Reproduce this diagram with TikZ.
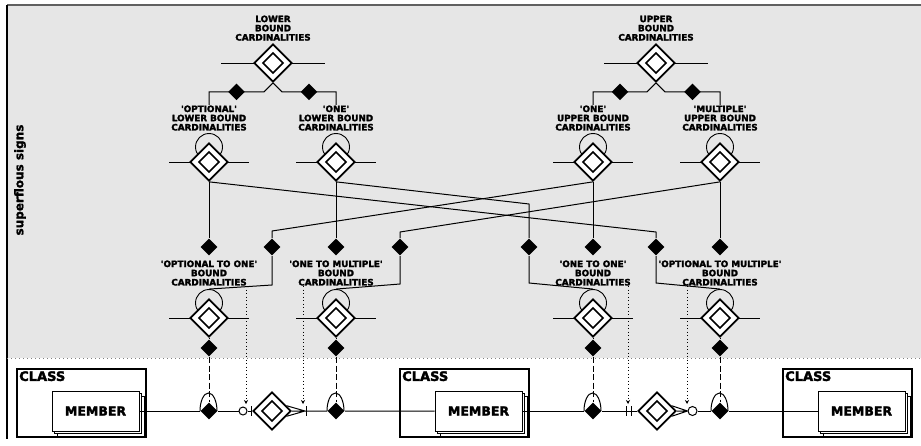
\documentclass[tikz,border=0pt]{standalone}
\usepackage{fontspec}
\setmainfont{DejaVu Sans}
\newfontfamily\heavy{DejaVu Sans Bold}[Ligatures=TeXOff, FakeBold=2.5]
\newfontfamily\sidefont{DejaVu Sans Bold}[FakeBold=1.5]
\usetikzlibrary{shapes.geometric, positioning, shadows, arrows.meta}
\definecolor{panel}{HTML}{E6E6E6}
\definecolor{rule}{HTML}{606060}

\begin{document}
\begin{tikzpicture}[x=1pt, y=-1pt, line width=1pt,
  rel/.style={diamond, draw, fill=white, line width=1.7pt, minimum size=38pt, inner sep=0pt,
    path picture={\draw[line width=1.7pt] (path picture bounding box.center) +(-10pt,0) -- +(0,10pt) -- +(10pt,0) -- +(0,-10pt) -- cycle;}},
  bdia/.style={diamond, fill=black, minimum size=17pt, inner sep=0pt},
  loopc/.style={circle, draw, line width=0.9pt, minimum size=27pt, inner sep=0pt},
  lab/.style={font=\heavy\fontsize{8.8}{9.2}\selectfont, align=center, inner sep=0pt},
  classbox/.style={draw, line width=1.5pt, fill=white, minimum width=129pt, minimum height=68pt},
  member/.style={draw, fill=white, minimum width=87pt, minimum height=40pt, font=\heavy\fontsize{12.5}{14}\selectfont,
    copy shadow={shadow xshift=5pt, shadow yshift=-5pt}, copy shadow={shadow xshift=2.5pt, shadow yshift=-2.5pt}},
  ring/.style={circle, draw, fill=white, minimum size=8pt, inner sep=0pt},
  hint/.style={dash pattern=on 1pt off 2.5pt, -{Stealth[length=4pt, width=4pt]}},
  link/.style={dash pattern=on 6pt off 2.5pt}]
  \useasboundingbox (0,0) rectangle (921,445);

  % grey panel with the superflous signs
  \fill[panel] (7,5) rectangle (921,358);
  \draw[rule, line width=1.2pt] (7,5) -- (921,5);
  \draw[line width=1.3pt] (7,5) -- (7,439);
  \draw[gray, dash pattern=on 1pt off 3pt] (7,358) -- (921,358);
  \node[rotate=90, font=\sidefont\fontsize{12}{14}\selectfont] (side) at (20,180) {superflous signs};

  % top level
  \foreach \n/\x in {lower/273, upper/656} {
    \draw (\x-52,63) -- (\x+52,63);
    \node[rel] (\n) at (\x,63) {};
  }
  \node[lab, above=2pt of lower] (lower-lab) {LOWER\\BOUND\\CARDINALITIES};
  \node[lab, above=2pt of upper] (upper-lab) {UPPER\\BOUND\\CARDINALITIES};

  % diamonds with a loop
  \foreach \n/\x/\y in {optlow/209/162, onelow/336/162, oneup/593/162, multup/720/162,
                        optone/209/318, onemult/336/318, oneone/593/318, optmult/720/318} {
    \node[loopc] (\n-loop) at (\x,\y-15) {};
    \draw (\x-40,\y) -- (\x+40,\y);
    \node[rel] (\n) at (\x,\y) {};
  }
  \node[lab, above=2pt of optlow-loop] (optlow-lab) {'OPTIONAL'\\LOWER BOUND\\CARDINALITIES};
  \node[lab, above=2pt of onelow-loop] (onelow-lab) {'ONE'\\LOWER BOUND\\CARDINALITIES};
  \node[lab, above=2pt of oneup-loop] (oneup-lab) {'ONE'\\UPPER BOUND\\CARDINALITIES};
  \node[lab, above=2pt of multup-loop] (multup-lab) {'MULTIPLE'\\UPPER BOUND\\CARDINALITIES};
  \node[lab, above=3pt of optone-loop] (optone-lab) {'OPTIONAL TO ONE'\\BOUND\\CARDINALITIES};
  \node[lab, above=3pt of onemult-loop] (onemult-lab) {'ONE TO MULTIPLE'\\BOUND\\CARDINALITIES};
  \node[lab, above=3pt of oneone-loop] (oneone-lab) {'ONE TO ONE'\\BOUND\\CARDINALITIES};
  \node[lab, above=3pt of optmult-loop] (optmult-lab) {'OPTIONAL TO MULTIPLE'\\BOUND\\CARDINALITIES};

  % branches
  \draw (lower.south) -- ++(-9,9) -| node[bdia, pos=.25] (b1) {} (optlow-lab.north);
  \draw (lower.south) -- ++(9,9) -| node[bdia, pos=.25] (b2) {} (onelow-lab.north);
  \draw (upper.south) -- ++(-9,9) -| node[bdia, pos=.25] (b3) {} (oneup-lab.north);
  \draw (upper.south) -- ++(9,9) -| node[bdia, pos=.25] (b4) {} (multup-lab.north);

  % combinations
  \foreach \x [count=\i] in {209,272,336,400,529,593,656,720}
    \node[bdia] (j\i) at (\x,247) {};
  \draw (optlow.south) -- (j1);
  \draw (onelow.south) -- (j3);
  \draw (oneup.south) -- (j6);
  \draw (multup.south) -- (j8);
  \draw (optlow.south) -- (656,232) -- (j7) -- (656,283) -- (optmult-loop.north);
  \draw (onelow.south) -- (529,204) -- (j5) -- (529,283) -- (oneone-loop.north);
  \draw (oneup.south) -- (272,231) -- (j2) -- (272,285) -- (optone-loop.north);
  \draw (multup.south) -- (400,232) -- (j4) -- (400,284) -- (onemult-loop.north);

  % classes
  \foreach \x [count=\i] in {81.5,464.5,847.5} {
    \node[classbox] (cls\i) at (\x,403) {};
    \node[anchor=north west, inner sep=2.5pt, font=\heavy\fontsize{13}{15}\selectfont] (cls\i-name) at (cls\i.north west) {CLASS};
    \node[member] (mem\i) at (\x+14,411) {MEMBER};
  }

  % signs on the association
  \foreach \n/\x [count=\i] in {optone/209, onemult/336, oneone/593, optmult/720} {
    \node[bdia] (e\i) at (\x,348) {};
    \node[bdia] (f\i) at (\x,411) {};
    \draw (\n) -- (e\i);
    \draw[link] (e\i) -- (f\i);
    \draw (f\i.west) arc[start angle=180, end angle=0, x radius=8.5pt, y radius=18pt];
  }
  \node[rel] (rel1) at (272,411) {};
  \node[rel] (rel2) at (657,411) {};
  \node[ring] (o1) at (243,411) {};
  \node[ring, minimum size=9pt] (o2) at (692.5,411) {};
  \coordinate (c1) at (305,411);
  \coordinate (c2) at (o2.west);
  \foreach \t in {251,306,626,631}
    \draw (\t,406) -- (\t,416);

  \draw (mem1) -- (f1) -- (o1) -- (rel1);
  \draw (rel1.20) -- (c1) (rel1.east) -- (c1) (rel1.-20) -- (c1) -- (f2) -- (mem2);
  \draw (mem2) -- (f3) -- (rel2);
  \draw (rel2.20) -- (c2) (rel2.east) -- (c2) (rel2.-20) -- (c2);
  \draw (o2) -- (f4) -- (mem3);

  % hints
  \coordinate (h1) at (246,404);
  \coordinate (h2) at (303,404);
  \coordinate (h3) at (628,404);
  \coordinate (h4) at (687,404);
  \draw[hint] (optone-lab.south -| h1) -- (h1);
  \draw[hint] (onemult-lab.south -| h2) -- (h2);
  \draw[hint] (oneone-lab.south -| h3) -- (h3);
  \draw[hint] (optmult-lab.south -| h4) -- (h4);
\end{tikzpicture}
\end{document}
